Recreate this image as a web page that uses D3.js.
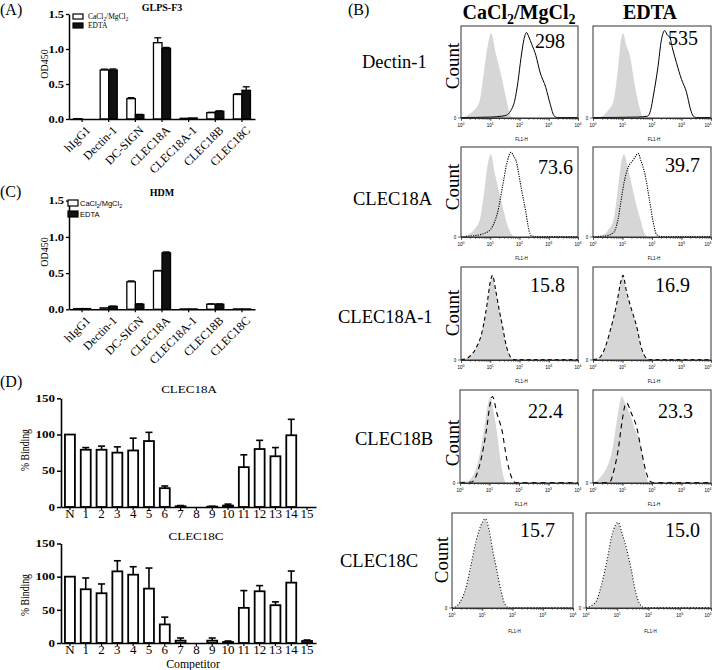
<!DOCTYPE html>
<html><head><meta charset="utf-8">
<script src="https://cdn.jsdelivr.net/npm/d3@7"></script>
<style>
body{margin:0;background:#fff}
svg{display:block}
text{font-family:"Liberation Serif","Times New Roman",serif;fill:#000}
</style>
</head><body>
<svg id="chart" width="713" height="670"></svg>
<script>
// ---------------- DATA ----------------
const categories = ["hIgG1","Dectin-1","DC-SIGN","CLEC18A","CLEC18A-1","CLEC18B","CLEC18C"];
const conditions = ["CaCl2/MgCl2","EDTA"];
const yTicksAC = [0,0.5,1.0,1.5];
// (A) GLPS-F3
const glpsCa      = [0.005,0.70,0.29,1.09,0.010,0.09,0.35];
const glpsCaErr   = [0,0.012,0.015,0.07,0,0.006,0.01];
const glpsEdta    = [0.0,0.70,0.06,1.01,0.015,0.11,0.41];
const glpsEdtaErr = [0,0.015,0.006,0.012,0,0.006,0.05];
// (C) HDM
const hdmCa       = [0.010,0.020,0.38,0.53,0.005,0.07,0.005];
const hdmCaErr    = [0,0,0.012,0.006,0,0.005,0];
const hdmEdta     = [0.010,0.040,0.07,0.78,0.005,0.07,0.005];
const hdmEdtaErr  = [0,0.004,0.006,0.012,0,0.005,0];
// (D) competition
const competitors = ["N","1","2","3","4","5","6","7","8","9","10","11","12","13","14","15"];
const yTicksD = [0,50,100,150];
const clec18aBinding = [100,79,79,75,78,91,26,1,0,0.5,2,55,80,70,99,0];
const clec18aErr     = [0,3,5,8,17,12,3,1,0,0.5,2,17,12,12,22,0];
const clec18cBinding = [100,81,75,108,103,82,28,3.5,0,3.5,1.5,53,78,57,91,3];
const clec18cErr     = [0,17,14,16,12,31,11,4,0,4,1.5,26,8.5,5,17.5,1.5];
// (B) flow cytometry: [log10 FL1-H, relative count]
const flowRows = ["Dectin-1","CLEC18A","CLEC18A-1","CLEC18B","CLEC18C"];
const flowMFI  = [["298","535"],["73.6","39.7"],["15.8","16.9"],["22.4","23.3"],["15.7","15.0"]];
const flowMajorTicks = [1,10,100,1000,10000];
const isoDectinCa = [[0,0],[0.17,0.02],[0.4,0.07],[0.63,0.18],[0.8,0.54],[0.92,0.8],[1.03,0.92],[1.2,0.69],[1.37,0.47],[1.54,0.22],[1.71,0.02],[1.85,0]];
const histDectinCa = [[0,0.005],[1.0,0.01],[1.4,0.02],[1.55,0.03],[1.7,0.08],[1.83,0.18],[1.95,0.4],[2.05,0.65],[2.15,0.85],[2.24,0.93],[2.32,0.88],[2.42,0.8],[2.56,0.68],[2.7,0.5],[2.9,0.33],[3.05,0.15],[3.19,0.02],[3.3,0.005],[4,0.005]];
const isoDectinEd = [[0,0],[0.24,0.01],[0.5,0.08],[0.69,0.18],[0.85,0.55],[0.95,0.85],[1.02,0.92],[1.12,0.8],[1.25,0.68],[1.42,0.35],[1.55,0.15],[1.7,0.01],[1.8,0]];
const histDectinEd = [[0,0.005],[1.5,0.01],[1.85,0.02],[1.95,0.08],[2.05,0.25],[2.2,0.55],[2.32,0.85],[2.43,0.95],[2.52,0.9],[2.6,0.88],[2.7,0.75],[2.83,0.6],[3.0,0.42],[3.17,0.28],[3.3,0.1],[3.4,0.02],[3.5,0.005],[4,0.005]];
const iso18ACa = [[0,0],[0.2,0.02],[0.45,0.08],[0.65,0.2],[0.8,0.52],[0.92,0.82],[1.02,0.92],[1.15,0.72],[1.3,0.5],[1.45,0.3],[1.6,0.12],[1.75,0.02],[1.85,0]];
const hist18ACa = [[0,0.005],[0.3,0.01],[0.7,0.03],[1.0,0.08],[1.15,0.17],[1.25,0.27],[1.42,0.56],[1.59,0.85],[1.71,0.94],[1.8,0.9],[1.88,0.85],[2.05,0.56],[2.22,0.27],[2.32,0.08],[2.42,0.01],[2.6,0.005],[4,0.005]];
const iso18AEd = [[0,0],[0.25,0.01],[0.5,0.07],[0.7,0.2],[0.85,0.55],[0.97,0.85],[1.05,0.92],[1.15,0.82],[1.3,0.6],[1.45,0.38],[1.6,0.2],[1.75,0.04],[1.85,0]];
const hist18AEd = [[0,0.005],[0.4,0.01],[0.7,0.05],[0.85,0.2],[0.95,0.4],[1.05,0.6],[1.2,0.78],[1.35,0.85],[1.45,0.9],[1.53,0.93],[1.62,0.85],[1.76,0.7],[1.92,0.4],[2.05,0.15],[2.15,0.03],[2.3,0.005],[4,0.005]];
const iso18A1Ca = [[0,0],[0.15,0.01],[0.3,0.04],[0.5,0.12],[0.74,0.32],[0.9,0.6],[1.0,0.82],[1.08,0.9],[1.18,0.75],[1.3,0.55],[1.42,0.36],[1.55,0.15],[1.7,0.03],[1.8,0]];
const hist18A1Ca = [[0,0.005],[0.15,0.01],[0.3,0.04],[0.5,0.12],[0.74,0.33],[0.9,0.62],[1.0,0.84],[1.08,0.91],[1.18,0.76],[1.3,0.55],[1.42,0.36],[1.55,0.15],[1.7,0.03],[1.82,0.005],[4,0.005]];
const iso18A1Ed = [[0,0],[0.15,0.01],[0.34,0.08],[0.57,0.3],[0.8,0.6],[0.95,0.85],[1.02,0.9],[1.12,0.75],[1.3,0.55],[1.48,0.36],[1.65,0.12],[1.81,0.02],[1.9,0]];
const hist18A1Ed = [[0,0.005],[0.15,0.01],[0.34,0.08],[0.57,0.3],[0.8,0.6],[0.95,0.85],[1.02,0.91],[1.12,0.76],[1.3,0.55],[1.48,0.36],[1.65,0.12],[1.81,0.02],[1.92,0.005],[4,0.005]];
const iso18BCa = [[0,0],[0.17,0.01],[0.4,0.06],[0.63,0.25],[0.8,0.55],[0.95,0.85],[1.03,0.93],[1.12,0.8],[1.25,0.55],[1.35,0.3],[1.45,0.1],[1.55,0.01],[1.65,0]];
const hist18BCa = [[0,0.005],[0.4,0.01],[0.51,0.05],[0.8,0.39],[0.91,0.6],[1.02,0.85],[1.1,0.93],[1.25,0.75],[1.42,0.57],[1.59,0.25],[1.75,0.06],[1.88,0.005],[4,0.005]];
const iso18BEd = [[0,0],[0.07,0.01],[0.3,0.08],[0.46,0.16],[0.65,0.35],[0.8,0.65],[0.9,0.85],[0.97,0.93],[1.1,0.85],[1.3,0.7],[1.45,0.55],[1.59,0.45],[1.7,0.25],[1.8,0.08],[1.87,0]];
const hist18BEd = [[0,0.005],[0.5,0.005],[0.57,0.01],[0.72,0.15],[0.85,0.35],[0.98,0.65],[1.08,0.83],[1.14,0.86],[1.3,0.75],[1.48,0.6],[1.64,0.35],[1.8,0.12],[1.93,0.02],[2.05,0.005],[4,0.005]];
const iso18CCa = [[0,0],[0.1,0.01],[0.26,0.06],[0.45,0.2],[0.6,0.4],[0.8,0.7],[1.0,0.9],[1.1,0.93],[1.22,0.82],[1.35,0.6],[1.48,0.4],[1.62,0.18],[1.75,0.04],[1.85,0]];
const hist18CCa = [[0,0.005],[0.1,0.01],[0.26,0.06],[0.45,0.2],[0.6,0.41],[0.8,0.71],[1.0,0.9],[1.1,0.94],[1.22,0.83],[1.35,0.6],[1.48,0.4],[1.62,0.18],[1.75,0.04],[1.88,0.005],[4,0.005]];
const iso18CEd = [[0,0],[0.15,0.02],[0.34,0.08],[0.5,0.25],[0.66,0.47],[0.85,0.78],[1.03,0.89],[1.15,0.78],[1.3,0.61],[1.45,0.4],[1.6,0.15],[1.71,0.05],[1.8,0]];
const hist18CEd = [[0,0.005],[0.15,0.02],[0.34,0.08],[0.5,0.25],[0.66,0.48],[0.85,0.79],[1.03,0.9],[1.15,0.79],[1.3,0.62],[1.45,0.4],[1.6,0.15],[1.71,0.05],[1.85,0.005],[4,0.005]];

// ---------------- DRAW ----------------
const svg = d3.select("#chart");
const SERIF = "Liberation Serif";

function stretch(sel, k){
  sel.each(function(){
    const L = this.getComputedTextLength();
    d3.select(this).attr("textLength", L*k).attr("lengthAdjust","spacingAndGlyphs");
  });
}
function subText(t, x, y, size, weight, family, anchor){
  const el = svg.append("text").attr("x",x).attr("y",y).attr("font-size",size)
    .attr("font-weight",weight||"normal").attr("text-anchor",anchor||"start");
  if(family) el.style("font-family",family);
  el.append("tspan").text("CaCl");
  el.append("tspan").attr("font-size",size*0.7).attr("dy",size*0.25).text("2");
  el.append("tspan").attr("dy",-size*0.25).text("/MgCl");
  el.append("tspan").attr("font-size",size*0.7).attr("dy",size*0.25).text("2");
  return el;
}

// panel letters
[["(A)",0,15],["(B)",348,15],["(C)",0,197],["(D)",0,387]].forEach(([t,x,y])=>{
  svg.append("text").attr("x",x).attr("y",y).attr("font-size",16).text(t);
});

// grouped bar panels (A) and (C)
function groupedBars(cfg){
  const x = d3.scaleBand().domain(categories).range([69,255]).paddingInner(0.36).paddingOuter(0.17);
  const xs = d3.scaleBand().domain(conditions).range([0,x.bandwidth()]);
  const y = d3.scaleLinear().domain([0,1.5]).range([cfg.y0,cfg.y15]);
  const g = svg.append("g");
  const series = [
    {key:conditions[0], vals:cfg.ca, errs:cfg.caErr, fill:"#fff"},
    {key:conditions[1], vals:cfg.ed, errs:cfg.edErr, fill:"#111"}];
  series.forEach(s=>{
    const rows = categories.map((c,i)=>({c, v:s.vals[i], e:s.errs[i]}));
    const eb = rows.filter(d=>d.e>0);
    g.selectAll(null).data(eb).join("line")
      .attr("x1",d=>x(d.c)+xs(s.key)+xs.bandwidth()/2).attr("x2",d=>x(d.c)+xs(s.key)+xs.bandwidth()/2)
      .attr("y1",d=>y(d.v)).attr("y2",d=>y(d.v+d.e)).attr("stroke","#000").attr("stroke-width",1.3);
    g.selectAll(null).data(eb).join("line")
      .attr("x1",d=>x(d.c)+xs(s.key)+xs.bandwidth()/2-3.5).attr("x2",d=>x(d.c)+xs(s.key)+xs.bandwidth()/2+3.5)
      .attr("y1",d=>y(d.v+d.e)).attr("y2",d=>y(d.v+d.e)).attr("stroke","#000").attr("stroke-width",1.3);
    g.selectAll(null).data(rows).join("rect")
      .attr("x",d=>x(d.c)+xs(s.key)).attr("width",xs.bandwidth())
      .attr("y",d=>y(d.v)).attr("height",d=>y(0)-y(d.v))
      .attr("fill",s.fill).attr("stroke","#000").attr("stroke-width",1.3);
  });
  const ya = g.append("g").attr("transform","translate(69,0)")
    .call(d3.axisLeft(y).tickValues(yTicksAC).tickFormat(d3.format(".1f")).tickSize(3).tickPadding(2).tickSizeOuter(0));
  ya.select(".domain").attr("stroke-width",1.5);
  ya.selectAll("line").attr("stroke-width",1.3);
  ya.selectAll("text").attr("font-size",10).attr("font-weight","bold").style("font-family",SERIF);
  stretch(ya.selectAll("text"),1.25);
  const xa = g.append("g").attr("transform",`translate(0,${cfg.y0})`)
    .call(d3.axisBottom(x).tickSize(3).tickSizeOuter(0).tickFormat(""));
  xa.select(".domain").attr("stroke-width",1.5);
  xa.selectAll("line").attr("stroke-width",1.2);
  g.selectAll(null).data(categories).join("text")
    .attr("transform",d=>`translate(${x(d)+x.bandwidth()/2+6},${cfg.y0+9}) rotate(-45)`)
    .attr("text-anchor","end").attr("dy","0.35em").attr("font-size",12).text(d=>d);
  g.append("text").attr("x",162).attr("y",cfg.titleY).attr("text-anchor","middle")
    .attr("font-size",10).attr("font-weight","bold").text(cfg.title);
  g.append("text").attr("transform",`translate(48,${cfg.ylabY}) rotate(-90)`)
    .attr("text-anchor","middle").attr("font-size",10).text("OD450");
  // legend
  const lg = cfg.legend;
  svg.append("rect").attr("x",lg.x).attr("y",lg.y).attr("width",lg.w).attr("height",lg.h).attr("fill","#fff").attr("stroke","#000").attr("stroke-width",1.2);
  svg.append("rect").attr("x",lg.x).attr("y",lg.y+lg.gap).attr("width",lg.w).attr("height",lg.h).attr("fill","#111").attr("stroke","#000").attr("stroke-width",1.2);
  subText(conditions[0], lg.tx, lg.y+lg.h, lg.fs, "normal", lg.family);
  const e = svg.append("text").attr("x",lg.tx).attr("y",lg.y+lg.gap+lg.h).attr("font-size",lg.fs).text(conditions[1]);
  if(lg.family) e.style("font-family",lg.family);
}

groupedBars({y0:119, y15:14, ca:glpsCa, caErr:glpsCaErr, ed:glpsEdta, edErr:glpsEdtaErr,
  title:"GLPS-F3", titleY:11, ylabY:64,
  legend:{x:73,y:14,w:10,h:5,gap:9,tx:88,fs:7.5}});
groupedBars({y0:309.3, y15:200.7, ca:hdmCa, caErr:hdmCaErr, ed:hdmEdta, edErr:hdmEdtaErr,
  title:"HDM", titleY:196, ylabY:252,
  legend:{x:68,y:200,w:10,h:6,gap:11,tx:80,fs:7.5,family:"Liberation Sans"}});

// competition panels (D)
function competitionBars(cfg){
  const x = d3.scaleBand().domain(competitors).range([61,316]).paddingInner(0.37).paddingOuter(0.25);
  const y = d3.scaleLinear().domain([0,150]).range([cfg.y0,cfg.y150]);
  const g = svg.append("g");
  const rows = competitors.map((c,i)=>({c, v:cfg.vals[i], e:cfg.errs[i]}));
  const eb = rows.filter(d=>d.e>0);
  g.selectAll(null).data(eb).join("line")
    .attr("x1",d=>x(d.c)+x.bandwidth()/2).attr("x2",d=>x(d.c)+x.bandwidth()/2)
    .attr("y1",d=>y(d.v)).attr("y2",d=>y(d.v+d.e)).attr("stroke","#000").attr("stroke-width",1.6);
  g.selectAll(null).data(eb).join("line")
    .attr("x1",d=>x(d.c)+x.bandwidth()/2-3.5).attr("x2",d=>x(d.c)+x.bandwidth()/2+3.5)
    .attr("y1",d=>y(d.v+d.e)).attr("y2",d=>y(d.v+d.e)).attr("stroke","#000").attr("stroke-width",1.6);
  g.selectAll(null).data(rows).join("rect")
    .attr("x",d=>x(d.c)).attr("width",x.bandwidth())
    .attr("y",d=>y(d.v)).attr("height",d=>y(0)-y(d.v))
    .attr("fill","#fff").attr("stroke","#000").attr("stroke-width",1.8);
  const ya = g.append("g").attr("transform","translate(61,0)")
    .call(d3.axisLeft(y).tickValues(yTicksD).tickSize(4).tickPadding(2).tickSizeOuter(0));
  ya.select(".domain").attr("stroke-width",1.6);
  ya.selectAll("line").attr("stroke-width",1.5);
  ya.selectAll("text").attr("font-size",10).attr("font-weight","bold").style("font-family",SERIF);
  stretch(ya.selectAll("text"),1.3);
  const xa = g.append("g").attr("transform",`translate(0,${cfg.y0})`)
    .call(d3.axisBottom(x).tickSize(3).tickPadding(-1).tickSizeOuter(0));
  xa.select(".domain").attr("stroke-width",1.6);
  xa.selectAll("line").attr("stroke-width",1.2);
  xa.selectAll("text").attr("font-size",13).style("font-family",SERIF);
  const t = g.append("text").attr("x",cfg.titleX).attr("y",cfg.titleY).attr("text-anchor","middle")
    .attr("font-size",10).text(cfg.title);
  stretch(t,1.3);
  g.append("text").attr("transform",`translate(29,${cfg.ylabY}) rotate(-90)`)
    .attr("text-anchor","middle").attr("font-size",13).attr("textLength",42).attr("lengthAdjust","spacingAndGlyphs").text("% Binding");
  if(cfg.xTitle){
    g.append("text").attr("x",193).attr("y",667.5).attr("text-anchor","middle")
      .attr("font-size",11.8).text(cfg.xTitle);
  }
}
competitionBars({y0:507, y150:398.3, vals:clec18aBinding, errs:clec18aErr, title:"CLEC18A", titleX:189, titleY:393, ylabY:450});
competitionBars({y0:643, y150:543.5, vals:clec18cBinding, errs:clec18cErr, title:"CLEC18C", titleX:196, titleY:540, ylabY:595, xTitle:"Competitor"});

// flow cytometry (B)
function flowPlot(p){
  const g = svg.append("g").attr("transform",`translate(${p.x},${p.y})`);
  const xs = d3.scaleLog().domain([1,1e4]).range([0,p.w]);
  const ys = d3.scaleLinear().domain([0,1]).range([p.h,0]);
  const area = d3.area().x(d=>xs(Math.pow(10,d[0]))).y0(p.h).y1(d=>ys(d[1])).curve(d3.curveMonotoneX);
  const line = d3.line().x(d=>xs(Math.pow(10,d[0]))).y(d=>ys(d[1])).curve(d3.curveMonotoneX);
  g.append("path").datum(p.iso).attr("d",area).attr("fill","#d6d6d6");
  g.append("path").datum(p.hist).attr("d",line).attr("fill","none").attr("stroke","#000")
    .attr("stroke-width",p.sw||1).attr("stroke-dasharray",p.dash||null);
  g.append("rect").attr("width",p.w).attr("height",p.h).attr("fill","none").attr("stroke","#333").attr("stroke-width",1);
  const minor = g.append("g").attr("transform",`translate(0,${p.h})`)
    .call(d3.axisBottom(xs).tickSize(2).tickSizeOuter(0).tickFormat(""));
  minor.select(".domain").remove();
  minor.selectAll("line").attr("stroke","#444").attr("stroke-width",0.6);
  const major = g.append("g").attr("transform",`translate(0,${p.h})`)
    .call(d3.axisBottom(xs).tickValues(flowMajorTicks).tickSize(3).tickSizeOuter(0).tickFormat(""));
  major.select(".domain").attr("stroke","#333");
  major.selectAll("line").attr("stroke","#333").attr("stroke-width",0.7);
  flowMajorTicks.forEach((v,i)=>{
    const last = (i===flowMajorTicks.length-1) && (p.x+p.w>705);
    const tx = g.append("text").attr("x",last? p.w+0.5 : xs(v)).attr("y",p.h+9)
      .attr("text-anchor",last?"end":"middle")
      .attr("font-size",4.5).style("font-family","Liberation Sans").attr("fill","#333");
    tx.append("tspan").text("10");
    tx.append("tspan").attr("dy",-2).attr("font-size",3.5).text(String(i));
  });
  g.append("line").attr("x1",-3).attr("x2",0).attr("y1",p.h).attr("y2",p.h).attr("stroke","#333").attr("stroke-width",0.7);
  g.append("text").attr("x",-6).attr("y",p.h+1.5).attr("text-anchor","middle").attr("font-size",4.5)
    .style("font-family","Liberation Sans").attr("fill","#333").text("0");
  g.append("text").attr("x",p.w/2+2).attr("y",p.h+p.fly).attr("text-anchor","middle").attr("font-size",4.5)
    .style("font-family","Liberation Sans").attr("fill","#333").text("FL1-H");
  g.append("text").attr("x",p.w-p.mr).attr("y",p.mt).attr("text-anchor","end").attr("font-size",20).text(p.mfi);
}

const rowTop = [26,147,267,390,513];
const rowH = [92,90,93,93,95];
const colX = [[461,593],[461,593],[461,593],[460,593],[452,586]];
const colW = [[117,118],[117,118],[117,118],[118,118],[121,125]];
const dashes = [null,"1.2,1.2","4,3","5,4","1,2"];
const isoSets = [[isoDectinCa,isoDectinEd],[iso18ACa,iso18AEd],[iso18A1Ca,iso18A1Ed],[iso18BCa,iso18BEd],[iso18CCa,iso18CEd]];
const histSets = [[histDectinCa,histDectinEd],[hist18ACa,hist18AEd],[hist18A1Ca,hist18A1Ed],[hist18BCa,hist18BEd],[hist18CCa,hist18CEd]];
const mfiPos = [[[13,22],[13,19]],[[5,27],[11,25]],[[13,25],[21,25]],[[15,28],[18,28]],[[18,24],[11,24]]];
const labelPos = [[362,68],[353,205],[338,323],[355,445],[340,567]];
const countPos = [[459,66],[459,187],[459,313],[459,443],[448,560]];

flowRows.forEach((r,ri)=>{
  svg.append("text").attr("x",labelPos[ri][0]).attr("y",labelPos[ri][1]).attr("font-size",18.5).text(r);
  svg.append("text").attr("transform",`translate(${countPos[ri][0]},${countPos[ri][1]}) rotate(-90)`)
    .attr("text-anchor","middle").attr("font-size",19).text("Count");
  for(let ci=0;ci<2;ci++){
    flowPlot({x:colX[ri][ci], y:rowTop[ri], w:colW[ri][ci], h:rowH[ri],
      iso:isoSets[ri][ci], hist:histSets[ri][ci], dash:dashes[ri], sw: ri===0?1:1.1,
      mfi:flowMFI[ri][ci], mr:mfiPos[ri][ci][0], mt:mfiPos[ri][ci][1], fly: ri===4?25:23});
  }
});
// column headers
subText(conditions[0], 519, 19, 20, "bold", null, "middle");
svg.append("text").attr("x",650).attr("y",19).attr("text-anchor","middle").attr("font-size",20).attr("font-weight","bold").text(conditions[1]);
</script>
</body></html>
